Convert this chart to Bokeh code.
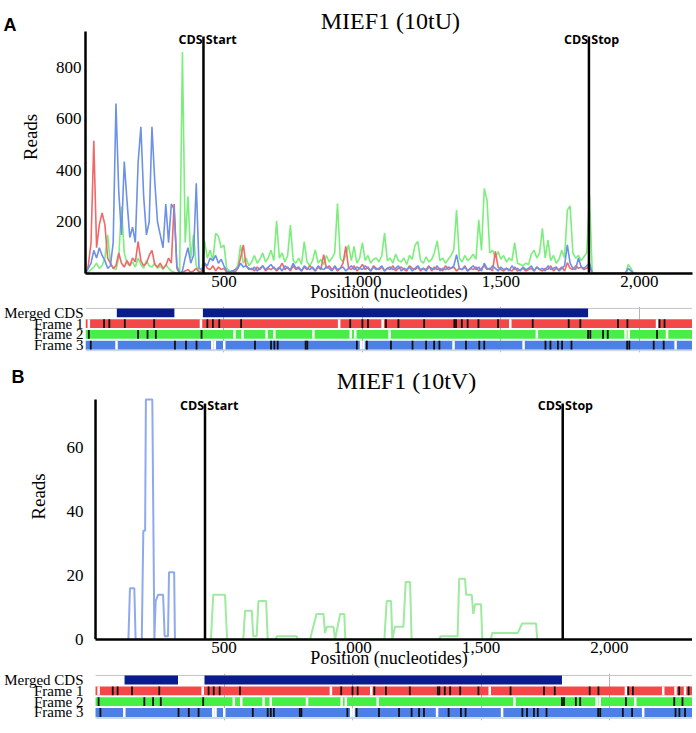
from bokeh.plotting import figure
from bokeh.models import Range1d, FixedTicker, Label, NumeralTickFormatter, LinearAxis
from bokeh.layouts import column
from bokeh.embed import file_html
from bokeh.resources import INLINE

# ---------------- data ----------------
x_ticks = [500, 1000, 1500, 2000]
y_ticks_a = [200, 400, 600, 800]
y_ticks_b = [0, 20, 40, 60]
cds_start = 426
cds_stop = 1818
cds_names = ["CDS Start", "CDS Stop"]
merged_cds_start = [113, 424]
merged_cds_end = [321, 1815]
track_labels = {3: "Merged CDS", 2: "Frame 1", 1: "Frame 2", 0: "Frame 3"}
panel_letters = ["A", "B"]
panel_titles = ["MIEF1 (10tU)", "MIEF1 (10tV)"]

# Panel A (10tU): reads per frame, one value every 10 nt from 0 to 1990
read_step_a = 10
frame1_reads_a = [
    0, 30, 120, 515, 100, 190, 235, 190, 60, 40,
    20, 30, 80, 40, 25, 50, 30, 60, 45, 124,
    50, 30, 40, 70, 90, 35, 25, 40, 20, 30,
    60, 40, 270, 20, 0, 5, 10, 15, 5, 10,
    20, 5, 10, 40, 20, 15, 30, 10, 25, 15,
    20, 5, 5, 10, 5, 20, 60, 111, 30, 15,
    20, 10, 25, 15, 30, 10, 20, 15, 25, 10,
    20, 40, 15, 25, 10, 30, 15, 20, 10, 25,
    15, 30, 20, 10, 25, 15, 73, 20, 30, 15,
    25, 10, 20, 40, 105, 20, 15, 30, 10, 20,
    35, 15, 25, 10, 30, 20, 15, 25, 10, 20,
    15, 30, 10, 20, 25, 15, 10, 30, 20, 15,
    25, 10, 20, 15, 30, 10, 25, 15, 20, 10,
    30, 15, 20, 25, 10, 20, 15, 30, 10, 20,
    15, 25, 10, 20, 30, 15, 20, 10, 86, 25,
    15, 10, 20, 15, 10, 25, 10, 15, 20, 10,
    15, 20, 10, 25, 15, 10, 20, 15, 30, 10,
    20, 15, 25, 10, 42, 20, 15, 30, 20, 25,
    15, 20, 30, 0, 0, 0, 0, 0, 0, 0,
    0, 0, 0, 0, 0, 0, 0, 0, 0, 0,
]
frame2_reads_a = [
    0, 5, 15, 25, 40, 20, 30, 60, 150, 40,
    20, 15, 60, 260, 80, 40, 30, 45, 25, 60,
    35, 20, 50, 30, 25, 40, 20, 30, 15, 35,
    20, 10, 5, 0, 5, 860, 120, 300, 60, 150,
    30, 10, 5, 126, 60, 90, 50, 156, 145, 100,
    110, 20, 10, 5, 15, 30, 110, 40, 60, 30,
    45, 70, 40, 55, 80, 45, 60, 90, 50, 204,
    60, 80, 45, 70, 188, 50, 40, 60, 35, 124,
    45, 30, 50, 92, 40, 55, 35, 70, 45, 60,
    80, 272, 60, 45, 70, 111, 50, 105, 40, 60,
    120, 50, 70, 40, 55, 60, 45, 70, 157, 50,
    60, 40, 75, 50, 45, 60, 35, 70, 55, 110,
    124, 50, 40, 65, 45, 55, 80, 127, 50, 60,
    40, 55, 70, 92, 246, 60, 45, 70, 50, 60,
    75, 55, 208, 90, 330, 285, 80, 90, 60, 85,
    55, 70, 45, 60, 50, 120, 40, 35, 30, 40,
    35, 75, 90, 60, 80, 175, 60, 130, 50, 70,
    40, 55, 90, 60, 246, 262, 80, 60, 70, 50,
    65, 80, 304, 0, 0, 0, 0, 0, 0, 0,
    0, 0, 0, 0, 0, 0, 35, 20, 0, 0,
]
frame3_reads_a = [
    0, 20, 40, 90, 60, 100, 70, 50, 20, 30,
    120, 660, 320, 150, 435, 280, 140, 180, 120, 430,
    570, 300, 150, 200, 570, 360, 200, 150, 100, 270,
    120, 270, 250, 30, 0, 10, 60, 100, 40, 70,
    350, 20, 15, 40, 30, 60, 50, 70, 40, 55,
    30, 10, 5, 10, 15, 20, 40, 25, 30, 20,
    15, 25, 10, 20, 30, 15, 25, 35, 20, 15,
    25, 10, 30, 20, 15, 40, 20, 25, 10, 30,
    20, 15, 25, 10, 30, 20, 15, 25, 20, 10,
    30, 15, 20, 25, 10, 20, 30, 15, 25, 20,
    15, 30, 20, 10, 25, 15, 20, 30, 10, 20,
    25, 15, 20, 30, 10, 20, 15, 25, 10, 20,
    30, 15, 20, 10, 25, 20, 15, 30, 10, 20,
    15, 25, 20, 30, 73, 20, 15, 25, 10, 20,
    30, 15, 25, 10, 40, 20, 15, 30, 20, 10,
    25, 15, 20, 10, 30, 15, 20, 10, 25, 15,
    20, 30, 10, 25, 15, 20, 10, 30, 15, 20,
    25, 10, 20, 30, 111, 40, 20, 15, 60, 25,
    20, 30, 40, 0, 0, 0, 0, 0, 0, 0,
    0, 0, 0, 0, 0, 0, 20, 10, 0, 0,
]
positions_a = [i * read_step_a for i in range(len(frame1_reads_a))]

# Panel B (10tV): step profiles (position, reads)
frame3_pos_b = [128, 134, 151, 156, 180, 186, 193, 196, 221, 229, 234, 244, 263, 269, 282, 286, 306, 309]
frame3_reads_b = [0, 16, 16, 0, 0, 34, 34, 75, 75, 0, 12, 14, 14, 1, 1, 21, 21, 0]
frame2_pos_b = [449, 458, 504, 512, 575, 582, 608, 614, 627, 634, 664, 670,
                701, 705, 783, 787, 835, 841, 860, 887, 893, 900, 926, 932, 952, 968, 972,
                1124, 1133, 1150, 1155, 1165, 1198, 1207, 1224, 1230,
                1337, 1343, 1409, 1415, 1438, 1442, 1464, 1470, 1477, 1500, 1505,
                1539, 1543, 1643, 1660, 1714, 1719]
frame2_reads_b = [0, 14, 14, 0, 0, 9, 9, 1, 1, 12, 12, 0,
                  0, 1, 1, 0, 0, 2, 8, 8, 2, 4, 4, 0, 8, 8, 0,
                  0, 12, 12, 0, 4, 4, 18, 18, 0,
                  0, 1, 1, 19, 19, 14, 14, 8, 11, 11, 0,
                  0, 2, 2, 5, 5, 0]

# ORF tracks: stop codons (black) and start codons (white)
frame1_stops = [67, 86, 142, 248, 440, 460, 483, 562, 956, 1000, 1020, 1085, 1130, 1223, 1332, 1338,
                1359, 1380, 1419, 1490, 1615, 1745, 1787, 1923, 1957, 2073, 2091, 2271, 2308]
frame1_starts = [12, 417, 916, 1073, 1534, 2064, 2209, 2257, 2294]
frame2_stops = [12, 190, 224, 254, 419, 1815, 1823, 1869, 1886, 2064, 2252, 2284]
frame2_starts = [538, 567, 654, 682, 823, 958, 974, 1098, 1630, 1950, 1962, 2100]
frame3_stops = [19, 323, 363, 401, 612, 670, 682, 694, 795, 801, 980, 1016, 1103, 1181, 1230, 1259,
                1278, 1374, 1422, 1440, 1661, 1679, 1706, 1721, 1755, 1956, 1964, 2052, 2088, 2257,
                2272, 2294]
frame3_starts = [112, 458, 467, 501, 995, 1004, 1329, 1582, 2131]

# ---------------- style ----------------
SERIF = "Liberation Serif"
RED_L, GREEN_L, BLUE_L = "#f06868", "#7cee7c", "#6d90e8"
GREEN_B, BLUE_B = "#9eea9e", "#8ea9ee"
RED_T, GREEN_T, BLUE_T, NAVY = "#f44848", "#46ee46", "#4c80e6", "#0a1c8c"
LEFT = 84
FW = 607


def style_axis(ax):
    ax.axis_line_color = "black"
    ax.axis_line_width = 2.5
    ax.major_tick_line_color = None
    ax.minor_tick_line_color = None
    ax.major_tick_out = 0
    ax.major_tick_in = 0
    ax.minor_tick_out = 0
    ax.minor_tick_in = 0
    ax.major_label_text_font = SERIF
    ax.major_label_text_font_size = "17px"
    ax.major_label_text_color = "black"
    ax.axis_label_text_font = SERIF
    ax.axis_label_text_font_style = "normal"
    ax.axis_label_text_color = "black"


def make_reads(x0, xmax, ymax_view, ymax_axis, fh, bottom, yticks, ystand, lstand):
    p = figure(frame_width=FW, frame_height=fh, x_range=Range1d(x0, xmax), y_range=Range1d(0, ymax_view),
               min_border_left=LEFT, min_border_right=1, min_border_top=0, min_border_bottom=bottom,
               output_backend="svg", toolbar_location=None,
               background_fill_color="white", border_fill_color="white")
    p.outline_line_color = None
    p.grid.grid_line_color = None
    style_axis(p.xaxis[0])
    style_axis(p.yaxis[0])
    p.xaxis.ticker = FixedTicker(ticks=x_ticks)
    p.xaxis.formatter = NumeralTickFormatter(format="0,0")
    p.xaxis.bounds = (0, xmax)
    p.xaxis.axis_label = "Position (nucleotides)"
    p.xaxis.axis_label_text_font_size = "18px"
    p.xaxis.major_label_standoff = 2
    try:
        p.xaxis.axis_label_standoff = -8
    except Exception:
        p.xaxis.axis_label_standoff = 0
    p.yaxis.ticker = FixedTicker(ticks=yticks)
    p.yaxis.bounds = (0, ymax_axis)
    p.yaxis.axis_label = "Reads"
    p.yaxis.axis_label_text_font_size = "19px"
    p.yaxis.major_label_standoff = ystand
    p.yaxis.axis_label_standoff = lstand
    return p


def add_letter(p, letter, ypos):
    la = LinearAxis(ticker=FixedTicker(ticks=[ypos]), major_label_overrides={ypos: letter},
                    axis_line_color=None, major_tick_line_color=None, minor_tick_line_color=None,
                    major_tick_out=0, major_tick_in=0, minor_tick_out=0, minor_tick_in=0,
                    major_label_standoff=0, major_label_text_font="Liberation Sans",
                    major_label_text_font_style="bold", major_label_text_font_size="18px",
                    major_label_text_color="black")
    p.add_layout(la, "left")


def add_title(p, title, xt, yt):
    p.add_layout(Label(x=xt, y=yt, text=title, text_align="center", text_baseline="alphabetic",
                       text_font=SERIF, text_font_size="24px", text_color="black"))


def add_cds(p, ytext, ytop):
    p.segment(x0=[cds_start, cds_stop], y0=0, x1=[cds_start, cds_stop], y1=ytop,
              line_color="black", line_width=2.5)
    for xv, name in zip([cds_start, cds_stop], cds_names):
        p.add_layout(Label(x=xv, y=ytext, x_offset=-25, text=name, text_align="left",
                           text_baseline="alphabetic",
                           text_font="Open Sans", text_font_style="bold", text_font_size="12.5px",
                           text_color="black"))


def make_track(x0, xmax, fh, ylo, yhi, top):
    t = figure(frame_width=FW, frame_height=fh, x_range=Range1d(x0, xmax), y_range=Range1d(ylo, yhi),
               min_border_left=LEFT, min_border_right=1, min_border_top=top, min_border_bottom=1,
               output_backend="svg", toolbar_location=None,
               background_fill_color="white", border_fill_color="white")
    t.outline_line_color = None
    t.xaxis.visible = False
    t.ygrid.grid_line_color = None
    t.xgrid.ticker = FixedTicker(ticks=x_ticks)
    t.xgrid.grid_line_color = "#b4b4b4"
    t.xgrid.grid_line_width = 1
    t.segment(x0=0, y0=3.42, x1=xmax, y1=3.42, line_color="#c4c4c4", line_width=1)
    t.hbar(y=-0.5, left=0, right=xmax, height=0.18, fill_color="#d2d8e2", line_color=None)
    t.hbar(y=[2, 1, 0], left=0, right=xmax, height=0.82,
           fill_color=[RED_T, GREEN_T, BLUE_T], line_color=None)
    t.hbar(y=3, left=merged_cds_start, right=merged_cds_end, height=0.82, fill_color=NAVY, line_color=None)
    for row, stops, starts in [(2, frame1_stops, frame1_starts),
                               (1, frame2_stops, frame2_starts),
                               (0, frame3_stops, frame3_starts)]:
        t.segment(x0=starts, y0=row - 0.41, x1=starts, y1=row + 0.41, line_color="white", line_width=2.5)
        t.segment(x0=stops, y0=row - 0.41, x1=stops, y1=row + 0.41, line_color="#101010", line_width=1.8)
    ya = t.yaxis[0]
    ya.ticker = FixedTicker(ticks=[0, 1, 2, 3])
    ya.major_label_overrides = track_labels
    ya.axis_line_color = None
    ya.major_tick_line_color = None
    ya.minor_tick_line_color = None
    ya.major_tick_out = 0
    ya.major_tick_in = 0
    ya.minor_tick_out = 0
    ya.major_label_standoff = 2
    ya.major_label_text_font = SERIF
    ya.major_label_text_font_size = "15px"
    ya.major_label_text_color = "black"
    return t


# ---------------- panel A ----------------
xmax_a = 2192
pa = make_reads(0, xmax_a, 1060, 940, 273, 30, y_ticks_a, 4, 12)
pa.line(positions_a, frame2_reads_a, line_color=GREEN_L, line_width=1.6)
pa.line(positions_a, frame1_reads_a, line_color=RED_L, line_width=1.6)
pa.line(positions_a, frame3_reads_a, line_color=BLUE_L, line_width=1.6)
add_cds(pa, 909, 920)
add_title(pa, panel_titles[0], 1101, 979)
add_letter(pa, panel_letters[0], 963)
ta = make_track(0, xmax_a, 46, -0.7, 3.6, 2)

# ---------------- panel B ----------------
xmin_b, xmax_b = -39, 2323
ymax_axis_b = 75
pb = make_reads(xmin_b, xmax_b, 89.4, ymax_axis_b, 286, 32, y_ticks_b, 2, 15)
pb.yaxis.axis_line_color = None
pb.segment(x0=0, y0=0, x1=0, y1=ymax_axis_b, line_color="black", line_width=2.5)
pb.line(frame3_pos_b, frame3_reads_b, line_color=BLUE_B, line_width=2)
pb.line(frame2_pos_b, frame2_reads_b, line_color=GREEN_B, line_width=2)
add_cds(pb, 73.2, 73.8)
add_title(pb, panel_titles[1], 1210, 80.8)
add_letter(pb, panel_letters[1], 82)
tb = make_track(xmin_b, xmax_b, 47, -0.74, 3.6, 2)

layout = column(pa, ta, pb, tb, spacing=0)
open("out.html", "w").write(file_html(layout, INLINE))
